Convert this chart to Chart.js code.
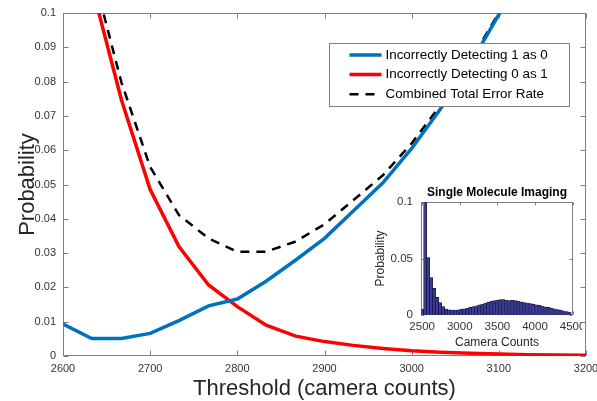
<!DOCTYPE html>
<html lang="en">
<head>
<meta charset="UTF-8">
<title>Threshold error rates</title>
<script src="https://cdn.jsdelivr.net/npm/chart.js"></script>
<style>
  body { margin: 0; background: #fff; }
  .wrap { position: relative; width: 597px; height: 401px; }
  #mainChart { position: absolute; left: 0; top: 0; }
  #insetChart { position: absolute; left: 370px; top: 180px; }
</style>
</head>
<body>
<div class="wrap">
  <canvas id="mainChart" width="597" height="401"></canvas>
  <canvas id="insetChart" width="212" height="172"></canvas>
</div>
<script>
// main plot data
const thresholds = [2600, 2633, 2667, 2700, 2733, 2767, 2800, 2833, 2867, 2900, 2933, 2967, 3000, 3033, 3067, 3100, 3133, 3167, 3200];
const err1as0 = [0.0093, 0.0051, 0.0051, 0.0066, 0.0103, 0.0146, 0.0166, 0.0218, 0.0280, 0.0343, 0.0423, 0.0505, 0.0605, 0.0720, 0.0850, 0.0995, 0.1150, 0.1320, 0.1500];
const err0as1 = [0.1500, 0.1080, 0.0747, 0.0485, 0.0319, 0.0207, 0.0144, 0.0090, 0.0058, 0.0042, 0.0031, 0.0022, 0.0015, 0.0011, 0.0008, 0.0006, 0.0004, 0.0003, 0.0002];
const combined = [0.1590, 0.1130, 0.0798, 0.0551, 0.0411, 0.0343, 0.0304, 0.0304, 0.0334, 0.0384, 0.0454, 0.0527, 0.0620, 0.0731, 0.0858, 0.1001, 0.1154, 0.1323, 0.1502];
const seriesNames = ['Incorrectly Detecting 1 as 0', 'Incorrectly Detecting 0 as 1', 'Combined Total Error Rate'];
const xTicks = [2600, 2700, 2800, 2900, 3000, 3100, 3200];
const yTicks = [0, 0.01, 0.02, 0.03, 0.04, 0.05, 0.06, 0.07, 0.08, 0.09, 0.1];
const yTickLabels = ['0', '0.01', '0.02', '0.03', '0.04', '0.05', '0.06', '0.07', '0.08', '0.09', '0.1'];

// inset histogram
const binCenters = [2500, 2540, 2580, 2620, 2660, 2700, 2740, 2780, 2820, 2860,
                    2900, 2940, 2980, 3020, 3060, 3100, 3140, 3180, 3220, 3260,
                    3300, 3340, 3380, 3420, 3460, 3500, 3540, 3580, 3620, 3660,
                    3700, 3740, 3780, 3820, 3860, 3900, 3940, 3980, 4020, 4060,
                    4100, 4140, 4180, 4220, 4260, 4300, 4340, 4380, 4420, 4460];
const binProb = [0.0053, 0.1300, 0.0509, 0.0332, 0.0235, 0.0156, 0.0109, 0.0074, 0.0053, 0.0045,
                 0.0044, 0.0044, 0.0046, 0.0050, 0.0055, 0.0060, 0.0067, 0.0074, 0.0081, 0.0089,
                 0.0097, 0.0106, 0.0114, 0.0121, 0.0127, 0.0132, 0.0136, 0.0137, 0.0132, 0.0128,
                 0.0130, 0.0127, 0.0123, 0.0117, 0.0111, 0.0106, 0.0101, 0.0096, 0.0091, 0.0085,
                 0.0079, 0.0073, 0.0067, 0.0061, 0.0055, 0.0049, 0.0043, 0.0037, 0.0031, 0.0026];
const insetXTicks = [2500, 3000, 3500, 4000, 4500];
const insetYTicks = [0, 0.05, 0.1];
const insetYLabels = ['0', '0.05', '0.1'];

Chart.defaults.font.family = "'Liberation Sans', Helvetica, Arial, sans-serif";
Chart.defaults.color = '#333';

// matlab style box with inward ticks
function boxTicks(len) {
    return {
        id: 'boxTicks',
        beforeDatasetsDraw(chart) {
            const { ctx, chartArea: a, scales } = chart;
            const L = Math.round(a.left) + 0.5, R = Math.round(a.right) - 0.5;
            const T = Math.round(a.top) + 0.5, B = Math.round(a.bottom) - 0.5;
            ctx.save();
            ctx.strokeStyle = '#808080';
            ctx.lineWidth = 1;
            ctx.strokeRect(L, T, R - L, B - T);
            ctx.beginPath();
            scales.x.ticks.forEach(t => {
                const px = Math.round(scales.x.getPixelForValue(t.value)) + 0.5;
                ctx.moveTo(px, B); ctx.lineTo(px, B - len);
                ctx.moveTo(px, T); ctx.lineTo(px, T + len);
            });
            scales.y.ticks.forEach(t => {
                const py = Math.round(scales.y.getPixelForValue(t.value)) + 0.5;
                ctx.moveTo(L, py); ctx.lineTo(L + len, py);
                ctx.moveTo(R, py); ctx.lineTo(R - len, py);
            });
            ctx.stroke();
            ctx.restore();
        }
    };
}

const boxLegend = {
    id: 'boxLegend',
    afterDatasetsDraw(chart) {
        const { ctx, chartArea: a } = chart;
        const x0 = Math.round(a.right - 257) + 0.5, y0 = Math.round(a.top + 30) + 0.5;
        const w = 240, h = 63;
        ctx.save();
        ctx.fillStyle = '#fff';
        ctx.fillRect(x0, y0, w, h);
        ctx.strokeStyle = '#808080';
        ctx.lineWidth = 1;
        ctx.strokeRect(x0, y0, w, h);
        ctx.font = "13.4px 'Liberation Sans', Helvetica, Arial, sans-serif";
        ctx.textBaseline = 'middle';
        chart.data.datasets.forEach((ds, i) => {
            const y = y0 + 11.5 + i * 19.6;
            ctx.beginPath();
            ctx.strokeStyle = ds.borderColor;
            ctx.lineWidth = ds.borderWidth;
            ctx.setLineDash(ds.borderDash || []);
            ctx.moveTo(x0 + 20, y);
            ctx.lineTo(x0 + 52, y);
            ctx.stroke();
            ctx.setLineDash([]);
            ctx.fillStyle = '#000';
            ctx.fillText(ds.label, x0 + 56, y);
        });
        ctx.restore();
    }
};

const insetTitle = {
    id: 'insetTitle',
    afterDraw(chart) {
        const { ctx, chartArea: a } = chart;
        ctx.save();
        ctx.font = "bold 12px 'Liberation Sans', Helvetica, Arial, sans-serif";
        ctx.fillStyle = '#000';
        ctx.textAlign = 'center';
        ctx.textBaseline = 'middle';
        ctx.fillText('Single Molecule Imaging', (a.left + a.right) / 2, a.top - 9);
        ctx.restore();
    }
};

function pts(xs, ys) {
    return xs.map((x, i) => ({ x: x, y: ys[i] }));
}

new Chart(document.getElementById('mainChart'), {
    type: 'line',
    data: {
        datasets: [
            { label: seriesNames[0], data: pts(thresholds, err1as0), borderColor: '#0072BD', borderWidth: 3.5 },
            { label: seriesNames[1], data: pts(thresholds, err0as1), borderColor: '#FF0000', borderWidth: 3.5 },
            { label: seriesNames[2], data: pts(thresholds, combined), borderColor: '#000000', borderWidth: 2.5, borderDash: [9, 7] }
        ]
    },
    options: {
        responsive: false,
        animation: false,
        devicePixelRatio: 1,
        clip: 0,
        elements: { point: { radius: 0 }, line: { tension: 0, fill: false } },
        layout: { padding: { left: 0, top: 13, right: 11, bottom: 0 } },
        plugins: { legend: { display: false }, tooltip: { enabled: false } },
        scales: {
            x: {
                type: 'linear', min: 2600, max: 3200,
                grid: { display: false, drawTicks: false }, border: { display: false },
                afterBuildTicks: s => { s.ticks = xTicks.map(v => ({ value: v })); },
                ticks: { padding: 6, maxRotation: 0, color: '#333', font: { size: 11 }, callback: v => String(v) },
                title: { display: true, text: 'Threshold (camera counts)', color: '#262626', font: { size: 22 }, padding: { top: 0, bottom: -1 } },
                afterFit: s => { s.height = 45; s.paddingLeft = 0; s.paddingRight = 0; }
            },
            y: {
                type: 'linear', min: 0, max: 0.1,
                grid: { display: false, drawTicks: false }, border: { display: false },
                afterBuildTicks: s => { s.ticks = yTicks.map(v => ({ value: v })); },
                ticks: { padding: 7, color: '#333', font: { size: 11 }, callback: (v, i) => yTickLabels[i] },
                title: { display: true, text: 'Probability', color: '#262626', font: { size: 22 }, padding: { top: 15, bottom: 0 } },
                afterFit: s => { s.width = 63; s.paddingTop = 0; s.paddingBottom = 0; }
            }
        }
    },
    plugins: [boxTicks(5), boxLegend]
});

new Chart(document.getElementById('insetChart'), {
    type: 'bar',
    data: {
        datasets: [{
            data: pts(binCenters, binProb),
            backgroundColor: '#3b3b94',
            borderColor: '#111133',
            borderWidth: 0.6,
            barPercentage: 1,
            categoryPercentage: 1
        }]
    },
    options: {
        responsive: false,
        animation: false,
        devicePixelRatio: 1,
        clip: 0,
        layout: { padding: { left: 0, top: 22, right: 9, bottom: 0 } },
        plugins: { legend: { display: false }, tooltip: { enabled: false } },
        scales: {
            x: {
                type: 'linear', min: 2485, max: 4505, offset: false,
                grid: { display: false, drawTicks: false }, border: { display: false },
                afterBuildTicks: s => { s.ticks = insetXTicks.map(v => ({ value: v })); },
                ticks: { padding: 5, maxRotation: 0, color: '#333', font: { size: 11.5 }, callback: v => String(v) },
                title: { display: true, text: 'Camera Counts', color: '#262626', font: { size: 12 }, padding: { top: 0, bottom: 2 } },
                afterFit: s => { s.height = 37; s.paddingLeft = 0; s.paddingRight = 0; }
            },
            y: {
                type: 'linear', min: 0, max: 0.1,
                grid: { display: false, drawTicks: false }, border: { display: false },
                afterBuildTicks: s => { s.ticks = insetYTicks.map(v => ({ value: v })); },
                ticks: { padding: 8, color: '#333', font: { size: 11.5 }, callback: (v, i) => insetYLabels[i] },
                title: { display: true, text: 'Probability', color: '#262626', font: { size: 12 }, padding: { top: 3, bottom: 0 } },
                afterFit: s => { s.width = 51; s.paddingTop = 0; s.paddingBottom = 0; }
            }
        }
    },
    plugins: [boxTicks(3), insetTitle]
});
</script>
</body>
</html>
